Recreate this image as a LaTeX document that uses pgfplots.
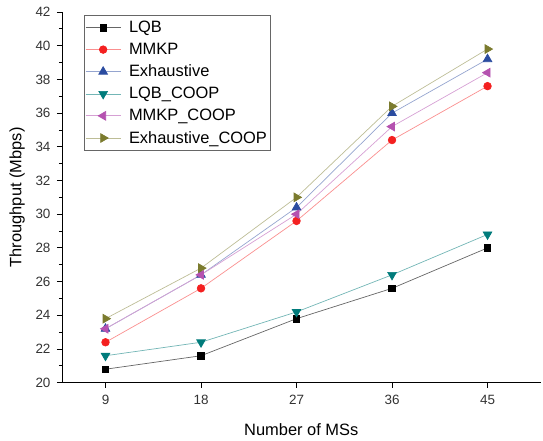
\documentclass[border=0pt]{standalone}
\usepackage{fontspec}
\setmainfont{Liberation Sans}
\usepackage{pgfplots}
\pgfplotsset{compat=1.18}

\definecolor{cLQB}{HTML}{000000}
\definecolor{cMMKP}{HTML}{F42020}
\definecolor{cEXH}{HTML}{2B4CA0}
\definecolor{cLQBc}{HTML}{007B7B}
\definecolor{cMMKPc}{HTML}{B552B0}
\definecolor{cEXHc}{HTML}{7B7B2E}

\begin{document}
\begin{tikzpicture}
\begin{axis}[scale only axis,width=478.6bp,height=370.7bp,
  xmin=4.9,xmax=50,ymin=20,ymax=42,
  axis lines=left,axis line style={-,line width=0.9bp},
  xtick={9,18,27,36,45},ytick={20,22,...,42},
  minor y tick num=1,
  tick align=outside,major tick length=5bp,minor tick length=3bp,
  tick style={line width=0.8bp,black},
  /pgf/number format/assume math mode=true,
  tick label style={font=\fontsize{13.5}{15}\selectfont,text=black!80},
  xticklabel style={yshift=-4bp},
  yticklabel style={xshift=-3bp},
  label style={font=\fontsize{16.5}{18}\selectfont},
  xlabel={Number of MSs},ylabel={Throughput (Mbps)},
  xlabel style={yshift=-12bp},
  ylabel style={yshift=4bp},
  every axis plot/.append style={line width=0.7bp},
  legend cell align=left,
  legend style={at={(0.046,0.992)},anchor=north west,draw=black!60,
    line width=0.6bp,font=\fontsize{16.5}{18}\selectfont,
    inner xsep=1bp,inner ysep=4bp,row sep=5bp},
  legend image code/.code={\draw[mark repeat=2,mark phase=2]
    plot coordinates {(0bp,0bp)(17.5bp,0bp)(35bp,0bp)};
    \path (41bp,0bp);},
  ]
\addplot[color=black!60,mark=square*,mark size=3.3bp,
  mark options={fill=cLQB,draw=cLQB}] coordinates {
(9,20.8)(18,21.6)(27,23.8)(36,25.6)(45,28.0)};
\addlegendentry{LQB}
\addplot[color=cMMKP!50!white,mark=*,mark size=3.8bp,
  mark options={fill=cMMKP,draw=cMMKP}] coordinates {
(9,22.4)(18,25.6)(27,29.6)(36,34.4)(45,37.6)};
\addlegendentry{MMKP}
\addplot[color=cEXH!50!white,mark=triangle*,mark size=5bp,
  mark options={fill=cEXH,draw=cEXH}] coordinates {
(9,23.2)(18,26.4)(27,30.4)(36,36.0)(45,39.2)};
\addlegendentry{Exhaustive}
\addplot[color=cLQBc!55!white,mark=triangle*,mark size=5bp,
  mark options={fill=cLQBc,draw=cLQBc,rotate=180}] coordinates {
(9,21.6)(18,22.4)(27,24.2)(36,26.4)(45,28.8)};
\addlegendentry{LQB\_COOP}
\addplot[color=cMMKPc!55!white,mark=triangle*,mark size=5bp,
  mark options={fill=cMMKPc,draw=cMMKPc,rotate=90}] coordinates {
(9,23.2)(18,26.4)(27,30.0)(36,35.2)(45,38.4)};
\addlegendentry{MMKP\_COOP}
\addplot[color=cEXHc!50!white,mark=triangle*,mark size=5bp,
  mark options={fill=cEXHc,draw=cEXHc,rotate=-90}] coordinates {
(9,23.8)(18,26.8)(27,31.0)(36,36.4)(45,39.8)};
\addlegendentry{Exhaustive\_COOP}
\coordinate (sw) at (rel axis cs:0,0);
\end{axis}
\pgfresetboundingbox
\path[use as bounding box] (sw) ++(-62bp,-58.3bp) rectangle ++(543bp,441bp);
\end{tikzpicture}
\end{document}
